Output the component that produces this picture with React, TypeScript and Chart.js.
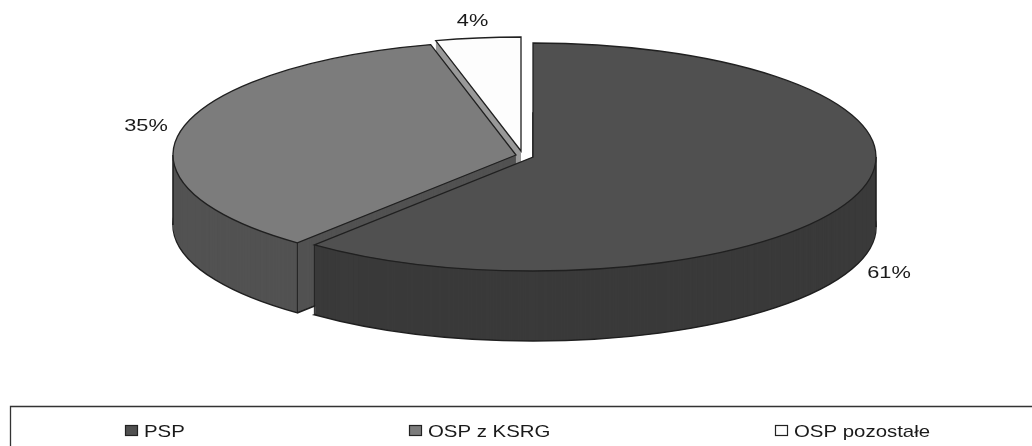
import React, { useEffect, useRef } from "react";
import { Chart, registerables } from "chart.js";

Chart.register(...registerables);

const categories = ["PSP", "OSP z KSRG", "OSP pozostałe"];
const shares = [61, 35, 4];

const topColors = ["#505050", "#7c7c7c", "#fdfdfd"];
const wallColors = ["#3a3a3a", "#525252", "#999999"];
const sliceShiftX = [0, -17, -12];
const sliceShiftY = [0, -2, -6];
const labelCentreX = [889, 146, 472.5];
const labelBaselineY = [278, 131, 26];
const legendBoxX = [125, 409, 775];
const legendTextX = [144, 428, 794];

const SQUASH = 114 / 343;
const DEPTH = 70;
const INK = "#202020";
const FONT = '17px "Liberation Sans", Arial, sans-serif';

const flatArcOptions = (fill: string) => ({
  backgroundColor: fill,
  borderColor: fill,
  borderWidth: 0,
  borderAlign: "center",
  borderRadius: 0,
  borderJoinStyle: "round",
  borderDash: [],
  borderDashOffset: 0,
  circular: true,
  offset: 0,
  spacing: 0,
  selfJoin: false,
});

function stretchedText(
  ctx: CanvasRenderingContext2D,
  text: string,
  x: number,
  y: number,
  align: CanvasTextAlign,
  stretch: number
) {
  ctx.save();
  ctx.translate(x, y);
  ctx.scale(stretch, 1);
  ctx.font = FONT;
  ctx.fillStyle = "#1a1a1a";
  ctx.textAlign = align;
  ctx.textBaseline = "alphabetic";
  ctx.fillText(text, 0, 0);
  ctx.restore();
}

const pie3d = {
  id: "pie3d",
  beforeDatasetsDraw(chart: any) {
    const ctx: CanvasRenderingContext2D = chart.ctx;
    const arcs = chart.getDatasetMeta(0).data;
    const squashed = (arc: any, dx: number, dy: number, fn: () => void) => {
      ctx.save();
      ctx.translate(arc.x + dx, arc.y + dy);
      ctx.scale(1, SQUASH);
      ctx.translate(-arc.x, -arc.y);
      fn();
      ctx.restore();
    };
    const outline = (arc: any, dx: number, dy: number) => {
      const cx = arc.x + dx;
      const cy = arc.y + dy;
      ctx.beginPath();
      ctx.moveTo(cx, cy);
      ctx.ellipse(cx, cy, arc.outerRadius, arc.outerRadius * SQUASH, 0, arc.startAngle, arc.endAngle);
      ctx.closePath();
      ctx.stroke();
    };
    const rimPoint = (arc: any, angle: number, dx: number, dy: number) => ({
      x: arc.x + dx + Math.cos(angle) * arc.outerRadius,
      y: arc.y + dy + Math.sin(angle) * arc.outerRadius * SQUASH,
    });
    const vertical = (x: number, y: number) => {
      ctx.beginPath();
      ctx.moveTo(x, y);
      ctx.lineTo(x, y + DEPTH);
      ctx.stroke();
    };

    // painter's order: back slices first
    [2, 1, 0].forEach((i) => {
      const arc = arcs[i];
      const dx = sliceShiftX[i];
      const dy = sliceShiftY[i];
      const saved = arc.options;

      ctx.strokeStyle = INK;
      ctx.lineWidth = 1.6;
      arc.options = flatArcOptions(wallColors[i]);
      for (let k = DEPTH; k >= 1; k--) {
        squashed(arc, dx, dy + k, () => arc.draw(ctx));
      }
      if (i !== 2) outline(arc, dx, dy + DEPTH);
      // redraw the wall so that only the outer half of the lower outline remains
      for (let k = DEPTH - 1; k >= 1; k--) {
        squashed(arc, dx, dy + k, () => arc.draw(ctx));
      }
      arc.options = saved;

      ctx.lineWidth = 1;
      if (i === 0) {
        const p = rimPoint(arc, arc.endAngle, dx, dy);
        vertical(p.x, p.y);
        const right = rimPoint(arc, 0, dx, dy);
        ctx.lineWidth = 1.6;
        vertical(right.x, right.y);
      }
      if (i === 1) {
        const p = rimPoint(arc, arc.startAngle, dx, dy);
        vertical(p.x, p.y);
        const left = rimPoint(arc, Math.PI, dx, dy);
        ctx.lineWidth = 1.6;
        vertical(left.x, left.y);
      }

      arc.options = flatArcOptions(topColors[i]);
      squashed(arc, dx, dy, () => arc.draw(ctx));
      arc.options = saved;

      ctx.lineWidth = 1.3;
      outline(arc, dx, dy);
    });
    return undefined;
  },
  beforeDatasetDraw() {
    return false;
  },
  afterDraw(chart: any) {
    const ctx: CanvasRenderingContext2D = chart.ctx;
    const values: number[] = chart.data.datasets[0].data;
    values.forEach((v, i) => {
      stretchedText(ctx, `${v}%`, labelCentreX[i], labelBaselineY[i], "center", 1.28);
    });

    // legend frame: the scan shows its top and left sides only
    ctx.save();
    ctx.strokeStyle = "#333333";
    ctx.lineWidth = 1.3;
    ctx.beginPath();
    ctx.moveTo(10.5, 446);
    ctx.lineTo(10.5, 406.5);
    ctx.lineTo(1032, 406.5);
    ctx.stroke();
    chart.data.labels.forEach((label: string, i: number) => {
      ctx.fillStyle = topColors[i];
      ctx.strokeStyle = "#222222";
      ctx.lineWidth = 1.2;
      ctx.fillRect(legendBoxX[i] + 0.5, 425.5, 12, 10);
      ctx.strokeRect(legendBoxX[i] + 0.5, 425.5, 12, 10);
      stretchedText(ctx, label, legendTextX[i], 437, "left", 1.2);
    });
    ctx.restore();
  },
};

export default function App() {
  const ref = useRef<HTMLCanvasElement>(null);
  useEffect(() => {
    const chart = new Chart(ref.current as HTMLCanvasElement, {
      type: "pie",
      data: {
        labels: categories,
        datasets: [
          {
            data: shares,
            backgroundColor: topColors,
            borderWidth: 0,
            clip: false,
          } as any,
        ],
      },
      options: {
        responsive: false,
        animation: false,
        radius: 343,
        layout: { padding: { left: 34, right: 0, top: 0, bottom: 132 } },
        plugins: { legend: { display: false }, tooltip: { enabled: false } },
      } as any,
      plugins: [pie3d as any],
    });
    return () => chart.destroy();
  }, []);
  return (
    <div style={{ position: "fixed", left: 0, top: 0, width: 1032, height: 446, background: "#ffffff" }}>
      <canvas ref={ref} width={1032} height={446} style={{ display: "block", filter: "blur(0.4px)" }} />
    </div>
  );
}
